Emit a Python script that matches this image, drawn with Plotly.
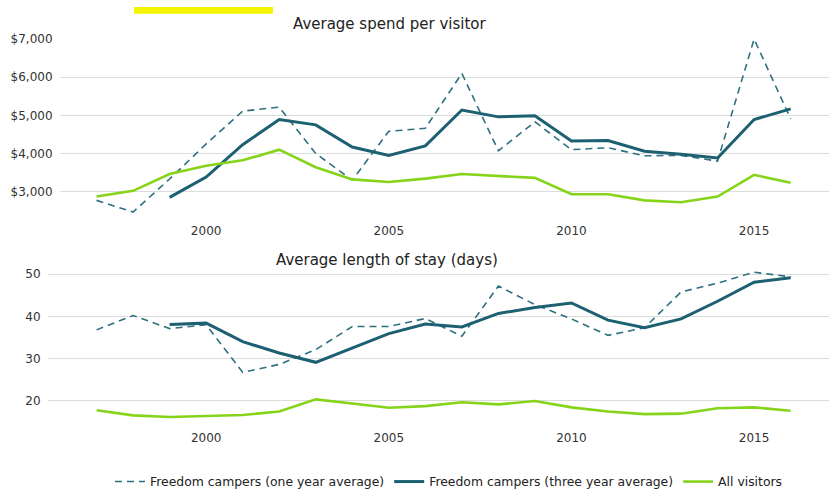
import plotly.graph_objects as go

years = list(range(1997, 2017))

spend_one_year = [2770, 2465, 3330, 4250, 5110, 5215, 4000, 3300, 4580, 4660,
                  6100, 4070, 4830, 4100, 4150, 3940, 3950, 3800, 7000, 4910]
spend_three_year = [None, None, 2850, 3380, 4230, 4890, 4750, 4170, 3950, 4200,
                    5140, 4960, 4990, 4330, 4340, 4060, 3980, 3880, 4890, 5170]
spend_all = [2870, 3020, 3460, 3680, 3820, 4100, 3640, 3320, 3250, 3340,
             3460, 3410, 3360, 2930, 2930, 2770, 2720, 2870, 3440, 3230]

stay_one_year = [36.8, 40.2, 37.1, 38.0, 26.7, 28.6, 32.1, 37.6, 37.6, 39.5,
                 35.3, 47.2, 42.8, 39.4, 35.5, 37.3, 45.8, 47.9, 50.5, 49.4]
stay_three_year = [None, None, 38.1, 38.4, 34.0, 31.3, 29.1, 32.5, 35.9, 38.2,
                   37.5, 40.7, 42.1, 43.2, 39.1, 37.3, 39.4, 43.6, 48.1, 49.2]
stay_all = [17.7, 16.5, 16.1, 16.4, 16.6, 17.4, 20.3, 19.3, 18.3, 18.7,
            19.6, 19.1, 19.9, 18.4, 17.4, 16.8, 16.9, 18.2, 18.4, 17.6]

spend_ticks = [3000, 4000, 5000, 6000, 7000]
spend_labels = ["$3,000", "$4,000", "$5,000", "$6,000", "$7,000"]
stay_ticks = [20, 30, 40, 50]
year_ticks = [2000, 2005, 2010, 2015]

names = ["Freedom campers (one year average)",
         "Freedom campers (three year average)",
         "All visitors"]

TEAL = "#1c6071"
TEAL_LIGHT = "#2e6f80"
GREEN = "#86d41a"
FONT = "DejaVu Sans, Liberation Sans, Arial, sans-serif"

fig = go.Figure()

def add(x, y, xa, ya, style, name, show):
    if style == 0:
        line = dict(color=TEAL_LIGHT, width=1.6, dash="7px,5px")
    elif style == 1:
        line = dict(color=TEAL, width=3)
    else:
        line = dict(color=GREEN, width=2.6)
    fig.add_trace(go.Scatter(x=x, y=y, xaxis=xa, yaxis=ya, mode="lines",
                             line=line, name=name, showlegend=show,
                             connectgaps=False, cliponaxis=False, hoverinfo="skip"))

add(years, spend_one_year, "x", "y", 0, names[0], True)
add(years, spend_three_year, "x", "y", 1, names[1], True)
add(years, spend_all, "x", "y", 2, names[2], True)
add(years, stay_one_year, "x2", "y2", 0, names[0], False)
add(years, stay_three_year, "x2", "y2", 1, names[1], False)
add(years, stay_all, "x2", "y2", 2, names[2], False)

W, H = 829, 497
def px(v):
    return v / W
def py(v):
    return 1 - v / H

tick_font = dict(family=FONT, size=12, color="#333333")

fig.update_layout(
    width=W, height=H,
    margin=dict(l=0, r=0, t=0, b=0),
    paper_bgcolor="white", plot_bgcolor="white",
    font=dict(family=FONT, color="#222222"),
    xaxis=dict(domain=[px(60), 1], range=[1996.0, 2017.05], tickvals=year_ticks,
               showgrid=False, zeroline=False, showline=False, tickfont=tick_font,
               ticks="outside", ticklen=5, tickcolor="rgba(0,0,0,0)", anchor="y"),
    yaxis=dict(domain=[py(213.5), py(33)], range=[2400, 7000], tickvals=spend_ticks,
               ticktext=spend_labels, showgrid=True, gridcolor="#dcdcdc", gridwidth=1,
               zeroline=False, showline=False, tickfont=tick_font, anchor="x",
               ticks="outside", ticklen=4, tickcolor="rgba(0,0,0,0)"),
    xaxis2=dict(domain=[px(48), 1], range=[1995.67, 2017.05], tickvals=year_ticks,
                showgrid=False, zeroline=False, showline=False, tickfont=tick_font,
                ticks="outside", ticklen=5, tickcolor="rgba(0,0,0,0)", anchor="y2"),
    yaxis2=dict(domain=[py(426.7), py(270.7)], range=[15, 51], tickvals=stay_ticks,
                showgrid=True, gridcolor="#dcdcdc", gridwidth=1,
                zeroline=False, showline=False, tickfont=tick_font, anchor="x2",
                ticks="outside", ticklen=4, tickcolor="rgba(0,0,0,0)"),
    legend=dict(orientation="h", x=px(110), xanchor="left", y=py(489), yanchor="middle",
                font=dict(family=FONT, size=12.4, color="#222222"), itemwidth=30,
                bgcolor="rgba(0,0,0,0)"),
    annotations=[
        dict(text="Average spend per visitor", x=px(389), y=py(17), xref="paper",
             yref="paper", showarrow=False, font=dict(family=FONT, size=15, color="#222222"),
             xanchor="center", yanchor="middle"),
        dict(text="Average length of stay (days)", x=px(387), y=py(260), xref="paper",
             yref="paper", showarrow=False, font=dict(family=FONT, size=15, color="#222222"),
             xanchor="center", yanchor="middle"),
    ],
    shapes=[
        dict(type="rect", xref="paper", yref="paper", x0=px(134), x1=px(273),
             y0=py(7), y1=1, fillcolor="#f5f500", line=dict(width=0), layer="above"),
    ],
)

fig.write_html("out.html", config={"displayModeBar": False},
               post_script="document.body.style.margin='0';document.body.style.padding='0';")
